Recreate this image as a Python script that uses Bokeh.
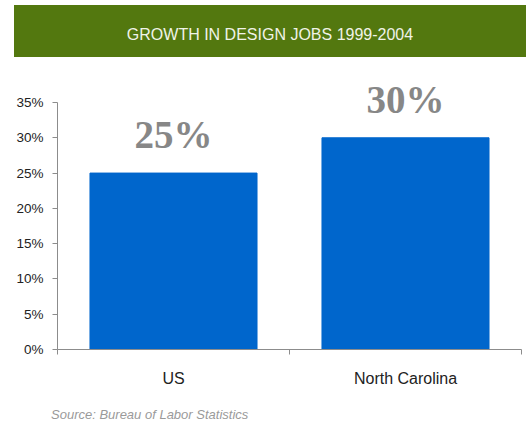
from bokeh.plotting import figure
from bokeh.models import (ColumnDataSource, FixedTicker, NumeralTickFormatter, Range1d,
                          LabelSet, Div)
from bokeh.layouts import column
from bokeh.embed import file_html
from bokeh.resources import INLINE

categories = ["US", "North Carolina"]
growth = [0.25, 0.30]
value_labels = ["25%", "30%"]
y_ticks = [0.0, 0.05, 0.10, 0.15, 0.20, 0.25, 0.30, 0.35]
y_max = 0.35
title_text = "GROWTH IN DESIGN JOBS 1999-2004"
source_text = "Source: Bureau of Labor Statistics"

SANS = "'Liberation Sans', Arial, sans-serif"

xs = [i + 0.5 for i in range(len(categories))]
src = ColumnDataSource(dict(x=xs, top=growth, label=value_labels))

# frame spans from the banner bottom (61px) to the axis (349px); 35% sits at 102px
frame_top, axis_top, axis_y = 61, 102, 349
y_end = y_max * (axis_y - frame_top) / (axis_y - axis_top)

banner = Div(
    text=f'<div style="width:512px;height:52px;padding-top:4px;line-height:52px;'
         f'background:#53780F;color:#F0F3E8;text-align:center;font-family:{SANS};'
         f'font-size:16px;white-space:nowrap;">{title_text}</div>',
    width=512, height=56, margin=(5, 0, 0, 14))

p = figure(width=526, height=344, output_backend="svg", toolbar_location=None,
           x_range=Range1d(0, len(categories)), y_range=Range1d(0, y_end),
           min_border_left=57, min_border_right=5, min_border_top=0, min_border_bottom=56)
p.outline_line_color = None
p.xgrid.grid_line_color = None
p.ygrid.grid_line_color = None
p.background_fill_color = "white"
p.border_fill_color = "white"

p.vbar(x="x", top="top", width=0.72, source=src, color="#0066CC")

# y axis
p.yaxis.bounds = (0, y_max)
p.yaxis.ticker = FixedTicker(ticks=y_ticks, minor_ticks=[])
p.yaxis.formatter = NumeralTickFormatter(format="0%")
p.yaxis.axis_line_color = "#8c8c8c"
p.yaxis.major_tick_line_color = "#8c8c8c"
p.yaxis.major_tick_out = 5
p.yaxis.major_tick_in = 0
p.yaxis.minor_tick_line_color = None
p.yaxis.major_label_standoff = 9
p.yaxis.major_label_text_font = SANS
p.yaxis.major_label_text_font_size = "13.5px"
p.yaxis.major_label_text_color = "#222222"

# x axis: labels at category centers, tick marks at category boundaries
p.xaxis.ticker = FixedTicker(ticks=xs, minor_ticks=list(range(len(categories) + 1)))
p.xaxis.major_label_overrides = {x: c for x, c in zip(xs, categories)}
p.xaxis.axis_line_color = "#8c8c8c"
p.xaxis.major_tick_line_color = None
p.xaxis.major_tick_out = 0
p.xaxis.major_tick_in = 0
p.xaxis.minor_tick_line_color = "#8c8c8c"
p.xaxis.minor_tick_out = 5
p.xaxis.minor_tick_in = 0
p.xaxis.major_label_standoff = 15
p.xaxis.major_label_text_font = SANS
p.xaxis.major_label_text_font_size = "16px"
p.xaxis.major_label_text_color = "#222222"

# value labels
p.add_layout(LabelSet(x="x", y="top", text="label", source=src, y_offset=17,
                      text_align="center", text_baseline="bottom",
                      text_font="'Liberation Serif', 'Times New Roman', serif",
                      text_font_style="bold", text_font_size="39px",
                      text_color="#878787"))

source = Div(
    text=f'<div style="font-family:{SANS};font-style:italic;font-size:13px;'
         f'color:#9a9a9a;white-space:nowrap;line-height:15px;">{source_text}</div>',
    width=300, height=16, margin=(2, 0, 0, 51))

layout = column(banner, p, source, spacing=0)
open("out.html", "w").write(file_html(layout, INLINE))
